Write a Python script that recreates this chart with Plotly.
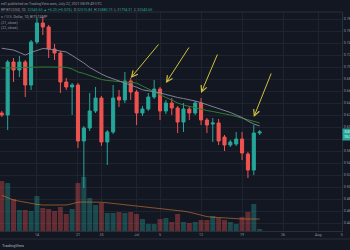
import plotly.graph_objects as go
import pandas as pd

# ---------------- data ----------------
dates = pd.date_range("2021-06-08", "2021-07-22", freq="D")

open_ = [0.6233, 0.62, 0.7083, 0.695, 0.7083, 0.67, 0.7417, 0.7733, 0.7667, 0.73,
         0.7233, 0.675, 0.6667, 0.67, 0.5767, 0.5983, 0.6267, 0.6483, 0.575, 0.5917,
         0.65, 0.645, 0.6767, 0.6583, 0.6233, 0.63, 0.65, 0.6633, 0.6267, 0.64,
         0.6317, 0.6083, 0.63, 0.6233, 0.64, 0.6117, 0.605, 0.6067, 0.5833, 0.57,
         0.5717, 0.58, 0.555, 0.5283, 0.59]
high = [0.6267, 0.7117, 0.715, 0.7183, 0.7117, 0.745, 0.7817, 0.7833, 0.77, 0.7383,
        0.7267, 0.6817, 0.6733, 0.6733, 0.6017, 0.6567, 0.6667, 0.6517, 0.595, 0.67,
        0.6617, 0.6917, 0.6817, 0.6617, 0.635, 0.6567, 0.6783, 0.6667, 0.645, 0.6483,
        0.635, 0.64, 0.635, 0.6433, 0.6483, 0.615, 0.615, 0.6133, 0.5867, 0.5783,
        0.5917, 0.5917, 0.5583, 0.6033, 0.595]
low = [0.6167, 0.595, 0.675, 0.6833, 0.65, 0.6617, 0.7383, 0.7533, 0.715, 0.7117,
       0.6567, 0.6617, 0.62, 0.565, 0.4983, 0.5933, 0.6233, 0.5683, 0.5367, 0.5883,
       0.6333, 0.64, 0.645, 0.6033, 0.6183, 0.6267, 0.6467, 0.6117, 0.6217, 0.62,
       0.59, 0.5917, 0.6117, 0.62, 0.6033, 0.59, 0.575, 0.57, 0.56, 0.5667,
       0.5683, 0.545, 0.515, 0.52, 0.5867]
close = [0.62, 0.7083, 0.695, 0.7083, 0.67, 0.7417, 0.7733, 0.7667, 0.73, 0.7233,
         0.675, 0.6667, 0.67, 0.5767, 0.5983, 0.6267, 0.6483, 0.575, 0.5917, 0.6483,
         0.645, 0.6767, 0.6583, 0.6233, 0.63, 0.65, 0.6633, 0.6267, 0.64, 0.6317,
         0.6083, 0.63, 0.6233, 0.64, 0.6117, 0.6033, 0.6067, 0.5767, 0.57, 0.575,
         0.58, 0.5567, 0.5283, 0.59, 0.5917]

ma_grey = [0.7312, 0.7297, 0.7283, 0.7242, 0.72, 0.7242, 0.7275, 0.7308, 0.73, 0.7283,
           0.7267, 0.725, 0.7192, 0.7133, 0.7067, 0.6992, 0.6933, 0.6883, 0.6838, 0.6802,
           0.6772, 0.6743, 0.6707, 0.6663, 0.662, 0.6603, 0.659, 0.657, 0.6542, 0.6513,
           0.6492, 0.6475, 0.6458, 0.6433, 0.6405, 0.6373, 0.6343, 0.6315, 0.6287, 0.6242,
           0.62, 0.6158, 0.61, 0.605, 0.6017]
ma_green = [0.6983, 0.6987, 0.699, 0.6995, 0.70, 0.70, 0.70, 0.70, 0.70, 0.70,
            0.70, 0.6995, 0.6967, 0.6917, 0.6892, 0.6858, 0.6817, 0.6792, 0.6775, 0.6767,
            0.6758, 0.675, 0.675, 0.6733, 0.6683, 0.6633, 0.6583, 0.6533, 0.6492, 0.645,
            0.64, 0.6367, 0.6342, 0.6317, 0.6292, 0.6275, 0.6258, 0.6242, 0.6225, 0.62,
            0.6175, 0.615, 0.6117, 0.6092, 0.6067]

volume = [250, 240, 160, 105, 105, 100, 175, 115, 110, 100,
          120, 85, 110, 240, 270, 165, 130, 140, 90, 90,
          95, 90, 95, 85, 60, 35, 35, 60, 65, 45,
          85, 45, 40, 45, 55, 55, 75, 65, 55, 45,
          35, 70, 95, 135, 10]
volume_ma = [178, 165, 155, 149, 143, 137, 133, 130, 130, 130,
             130, 130, 136, 144, 145, 145, 145, 144, 141, 138,
             134, 130, 127, 123, 120, 118, 115, 112, 109, 107,
             103, 99, 94, 86, 79, 72, 69, 68, 66, 64,
             62, 60, 60, 60, 60]

x_tick_dates = ["2021-06-14", "2021-06-21", "2021-06-25", "2021-07-01", "2021-07-05",
                "2021-07-12", "2021-07-19", "2021-07-26", "2021-08-01", "2021-08-05"]
x_tick_text = ["14", "21", "25", "Jul", "5", "12", "19", "26", "Aug", "5"]
y_tick_vals = [0.44, 0.46, 0.48, 0.50, 0.52, 0.54, 0.56, 0.58, 0.60, 0.62,
               0.64, 0.66, 0.68, 0.70, 0.72, 0.74, 0.76, 0.78]

# arrows: (tip date, tip price, tail dx px, tail dy px)
arrows = [("2021-06-30", 0.6817, 29, -35),
          ("2021-07-06", 0.6733, 24, -37),
          ("2021-07-12", 0.6567, 17, -40),
          ("2021-07-21", 0.6167, 18, -45)]

# ---------------- styling ----------------
BG = "#131722"
UP = "#26a69a"
DN = "#ef5350"
GRID = "#1f2330"
TXT = "#9598a1"
FONT = "Roboto"

vol_colors = ["rgba(38,166,154,0.36)" if c >= o else "rgba(239,83,80,0.36)"
              for o, c in zip(open_, close)]

fig = go.Figure()

fig.add_trace(go.Bar(x=dates, y=volume, marker=dict(color=vol_colors, line=dict(width=0)),
                     yaxis="y2", showlegend=False, hoverinfo="skip"))
fig.add_trace(go.Scatter(x=dates, y=volume_ma, mode="lines", yaxis="y2",
                         line=dict(color="rgba(214,124,52,0.6)", width=1),
                         showlegend=False, hoverinfo="skip"))
fig.add_trace(go.Scatter(x=dates, y=ma_green, mode="lines",
                         line=dict(color="#2e7d32", width=1), showlegend=False))
fig.add_trace(go.Scatter(x=dates, y=ma_grey, mode="lines",
                         line=dict(color="#8a8ba0", width=0.9), showlegend=False))
fig.add_trace(go.Candlestick(
    x=dates, open=open_, high=high, low=low, close=close,
    increasing=dict(line=dict(color=UP, width=1), fillcolor=UP),
    decreasing=dict(line=dict(color=DN, width=1), fillcolor=DN),
    whiskerwidth=0, showlegend=False))

PLOT_H = 219.0
annotations = []
for d, p, dx, dy in arrows:
    annotations.append(dict(x=d, y=p, xref="x", yref="y", ax=dx, ay=dy,
                            showarrow=True, arrowhead=5, arrowsize=1.2, arrowwidth=1,
                            arrowcolor="#cfc23c", text=""))

def top_text(txt, ypx, color=TXT, size=3.6):
    annotations.append(dict(x=0, y=1 + (12 - ypx) / PLOT_H, xref="paper", yref="paper",
                            xanchor="left", yanchor="top", showarrow=False, text=txt,
                            borderpad=0, font=dict(family=FONT, size=size, color=color)))

G = "<span style='color:#26a69a'>%s</span>"
top_text("ed1 published on TradingView.com, July 22, 2021 08:39:49 UTC", 1.2)
top_text("RP BTCUSD, 1D  " + G % "32543.65 \u25b2 +5.20 (+0.02%)" +
         "  O " + G % "32515.83" + "  H " + G % "32880.73" +
         "  L " + G % "31794.31" + "  C " + G % "32543.65", 6.8)
top_text("n / U.S. Dollar, 1D, BITSTAMP", 14.3)
top_text("(21, close)", 19.8)
top_text("(22, close)", 25.3)

annotations.append(dict(x=0, y=-(245 - 231) / PLOT_H, xref="paper", yref="paper",
                        xanchor="left", yanchor="middle", showarrow=False,
                        text="TradingView", font=dict(family=FONT, size=4, color="#b2b5be")))
annotations.append(dict(x=1, y=close[-1], xref="paper", yref="y", xanchor="left",
                        yanchor="top", yshift=4, showarrow=False,
                        text="%.5f<br>15:20:11" % close[-1], bgcolor=UP, borderpad=1,
                        font=dict(family=FONT, size=3.6, color="#ffffff")))

shapes = [
    dict(type="line", xref="paper", yref="paper", x0=0, x1=1, y0=1, y1=1,
         line=dict(color="#2a2e39", width=1)),
    dict(type="line", xref="paper", yref="paper", x0=0, x1=1.03,
         y0=-8 / PLOT_H, y1=-8 / PLOT_H, line=dict(color="#2a2e39", width=1)),
]

fig.update_layout(
    template="none",
    width=350, height=250,
    margin=dict(l=0, r=8, t=12, b=19, pad=0),
    paper_bgcolor=BG, plot_bgcolor=BG,
    bargap=0.15, boxgap=0.25,
    showlegend=False,
    annotations=annotations,
    shapes=shapes,
    xaxis=dict(type="date",
               range=["2021-06-07 16:38", "2021-08-05 01:15"],
               rangeslider=dict(visible=False),
               tickvals=x_tick_dates, ticktext=x_tick_text,
               tickfont=dict(family=FONT, size=3.6, color=TXT),
               showgrid=True, gridcolor=GRID, gridwidth=1,
               showline=True, linecolor="#2a2e39", linewidth=1,
               ticks="", zeroline=False, automargin=False),
    yaxis=dict(side="right", range=[0.42667, 0.79167],
               tickvals=y_tick_vals, tickformat=".5f",
               tickfont=dict(family=FONT, size=3.6, color=TXT),
               showgrid=True, gridcolor=GRID, gridwidth=1,
               showline=True, linecolor="#2a2e39", linewidth=1,
               ticks="", zeroline=False, automargin=False),
    yaxis2=dict(overlaying="y", range=[0, 1095], visible=False, showgrid=False,
                zeroline=False),
)

fig.write_html("out.html")
